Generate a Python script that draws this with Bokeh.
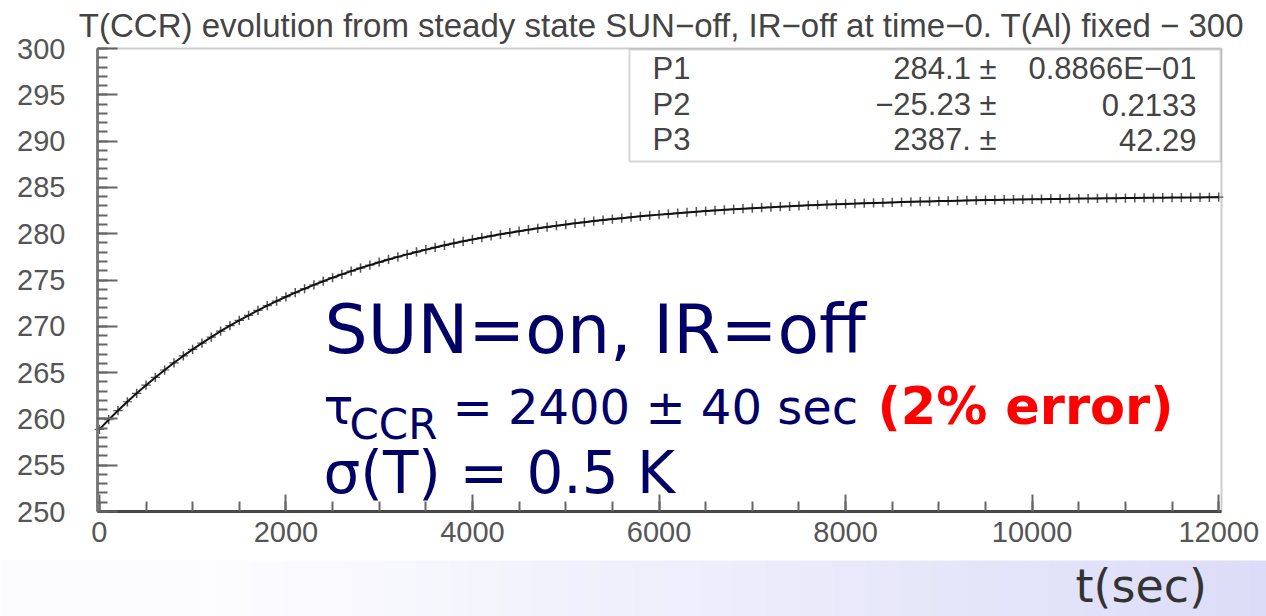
from bokeh.plotting import figure
from bokeh.models import Label, BoxAnnotation, SingleIntervalTicker, Range1d, ColumnDataSource
from bokeh.embed import file_html
from bokeh.resources import INLINE

# ---------------- data ----------------
time_s = list(range(0, 12001, 100))
temp_K = [258.87, 259.91, 260.90, 261.85, 262.76, 263.64, 264.48, 265.28, 266.06, 266.80,
          267.51, 268.19, 268.84, 269.47, 270.07, 270.64, 271.19, 271.72, 272.23, 272.72,
          273.19, 273.63, 274.06, 274.47, 274.87, 275.25, 275.61, 275.96, 276.29, 276.61,
          276.92, 277.22, 277.50, 277.77, 278.03, 278.28, 278.52, 278.75, 278.97, 279.18,
          279.38, 279.57, 279.76, 279.94, 280.11, 280.27, 280.43, 280.58, 280.72, 280.86,
          280.99, 281.12, 281.24, 281.36, 281.47, 281.58, 281.68, 281.78, 281.88, 281.97,
          282.06, 282.14, 282.22, 282.30, 282.37, 282.44, 282.51, 282.58, 282.64, 282.70,
          282.76, 282.81, 282.86, 282.92, 282.96, 283.01, 283.06, 283.10, 283.14, 283.18,
          283.22, 283.25, 283.29, 283.32, 283.35, 283.38, 283.41, 283.44, 283.47, 283.49,
          283.52, 283.54, 283.57, 283.59, 283.61, 283.63, 283.65, 283.67, 283.68, 283.70,
          283.72, 283.73, 283.75, 283.76, 283.78, 283.79, 283.80, 283.81, 283.83, 283.84,
          283.85, 283.86, 283.87, 283.88, 283.89, 283.90, 283.90, 283.91, 283.92, 283.93, 283.94]
temp_err = [0.5] * len(temp_K)
bin_half = [50] * len(temp_K)

fit_names = ["P1", "P2", "P3"]
fit_values = ["284.1 \u00b1", "\u221225.23 \u00b1", "2387. \u00b1"]
fit_errors = ["0.8866E\u221201", "0.2133", "42.29"]

x_lo, x_hi = -20, 12030
y_lo, y_hi = 250, 300
x_ticks_interval = 2000
y_ticks_interval = 5

title_text = "T(CCR) evolution from steady state SUN\u2212off, IR\u2212off at time\u22120. T(Al) fixed \u2212 300"

# ---------------- geometry helpers (pixel -> data) ----------------
W, H = 1266, 616
FL, FR, FT, FB = 97, 1221, 48, 511   # plot box in pixels


def dx(px):
    return x_lo + (px - FL) / (FR - FL) * (x_hi - x_lo)


def dy(py):
    return y_hi - (py - FT) / (FB - FT) * (y_hi - y_lo)


p = figure(width=W, height=H, x_range=Range1d(dx(0), dx(W)), y_range=Range1d(dy(H), dy(0)),
           output_backend="svg", toolbar_location=None, min_border=0)
p.xgrid.visible = False
p.ygrid.visible = False
p.background_fill_color = "white"
p.border_fill_color = "white"
p.outline_line_color = None

p.xaxis.ticker = SingleIntervalTicker(interval=x_ticks_interval, num_minor_ticks=4)
p.yaxis.ticker = SingleIntervalTicker(interval=y_ticks_interval, num_minor_ticks=5)
p.xaxis.fixed_location = y_lo
p.yaxis.fixed_location = x_lo
p.xaxis.bounds = (x_lo, x_hi)
p.yaxis.bounds = (y_lo, y_hi)
for ax in (p.xaxis[0], p.yaxis[0]):
    ax.major_tick_out = 0
    ax.minor_tick_out = 0
    ax.major_tick_line_color = "#666666"
    ax.minor_tick_line_color = "#666666"
    ax.major_tick_line_width = 2
    ax.minor_tick_line_width = 2
    ax.major_label_text_font = "Liberation Sans"
    ax.major_label_text_font_size = "29px"
    ax.major_label_text_color = "#555555"
p.yaxis.major_tick_in = 20
p.yaxis.minor_tick_in = 10
p.xaxis.major_tick_in = 17
p.xaxis.minor_tick_in = 10
p.yaxis.axis_line_color = "#888888"
p.yaxis.axis_line_width = 3
p.xaxis.axis_line_color = "#444444"
p.xaxis.axis_line_width = 3
p.yaxis.major_label_standoff = 32
p.xaxis.major_label_standoff = 10

# plot box (top / right edges)
p.add_layout(BoxAnnotation(left=x_lo, right=x_hi, bottom=y_lo, top=y_hi,
                           fill_color=None, line_color="#555555", line_width=2), "center")

# bottom band (decoration) with gradient
n = 64
gx0 = 200
lefts, rights, cols = [], [], []
for i in range(n):
    a = gx0 + (W - gx0) * i / n
    b = gx0 + (W - gx0) * (i + 1) / n
    f = (i + 0.5) / n
    r = int(round(253 - (253 - 220) * f))
    g = int(round(253 - (253 - 220) * f))
    bl = int(round(255 - (255 - 248) * f))
    lefts.append(dx(a))
    rights.append(dx(b + 0.6))
    cols.append("#%02x%02x%02x" % (r, g, bl))
p.quad(left=[dx(0)], right=[dx(gx0 + 1)], bottom=dy(H), top=dy(560), fill_color="#fcfcfe", line_color=None)
p.quad(left=lefts, right=rights, bottom=dy(H), top=dy(560), fill_color=cols, line_color=None)

# data: error bars + fit line
src = ColumnDataSource(dict(
    t=time_s, T=temp_K,
    lo=[v - e for v, e in zip(temp_K, temp_err)],
    hi=[v + e for v, e in zip(temp_K, temp_err)],
    tl=[t - h for t, h in zip(time_s, bin_half)],
    tr=[t + h for t, h in zip(time_s, bin_half)],
))
p.segment(x0="t", y0="lo", x1="t", y1="hi", source=src, line_color="#555555", line_width=1.5)
p.segment(x0="tl", y0="T", x1="tr", y1="T", source=src, line_color="#555555", line_width=1.2)
p.line(x="t", y="T", source=src, line_color="#111111", line_width=2)


def txt(xp, base_py, text, size, font="DejaVu Sans", color="#000066", style="normal", align="left"):
    # base_py: wanted baseline in pixels; renderer places 'alphabetic' ~0.38em lower
    p.add_layout(Label(x=dx(xp), y=dy(base_py - 0.38 * size), text=text, text_font=font,
                       text_baseline="alphabetic", text_align=align,
                       text_font_size="%dpx" % size, text_color=color, text_font_style=style))


# title
txt(661, 38, title_text, 33, font="Liberation Sans", color="#444444", align="center")

# stats box
p.add_layout(BoxAnnotation(left=dx(629), right=dx(1220), top=dy(49), bottom=dy(161),
                           fill_color="white", fill_alpha=1.0,
                           line_color="#777777", line_width=2))
row_base = [80, 116, 151]
for name, val, err, yb in zip(fit_names, fit_values, fit_errors, row_base):
    txt(652, yb, name, 31, font="Liberation Sans", color="#444444")
    txt(996, yb, val, 31, font="Liberation Sans", color="#444444", align="right")
    txt(1196, yb, err, 31, font="Liberation Sans", color="#444444", align="right")

# big annotation text
txt(324, 355, "SUN=on, IR=off", 68)
txt(323, 425, "\u03c4", 50)
txt(349, 440, "CCR", 42)
txt(452, 425, "= 2400 \u00b1 40 sec", 48)
txt(877, 425, "(2% error)", 51, color="#ff0000", style="bold")
txt(323, 495, "\u03c3(T) = 0.5 K", 58)

# axis caption in the band
txt(1075, 603, "t(sec)", 46, color="#333333")

open("out.html", "w").write(file_html(p, INLINE))
